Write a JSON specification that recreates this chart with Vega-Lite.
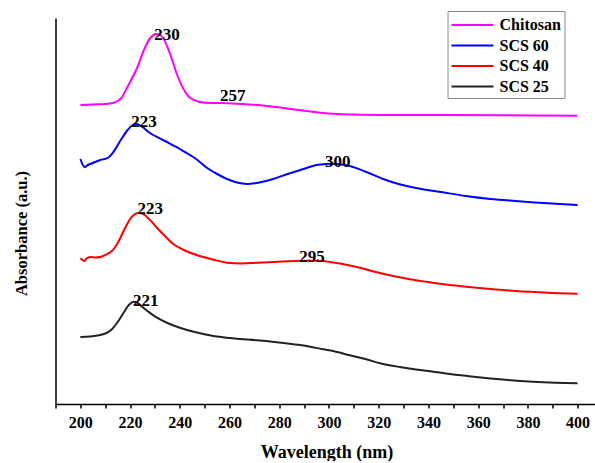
{
  "$schema": "https://vega.github.io/schema/vega-lite/v6.json",
  "width": 542,
  "height": 386,
  "padding": {"left": 13.5, "top": 10, "right": 0, "bottom": 0},
  "background": "white",
  "config": {
    "font": "Liberation Serif",
    "view": {"stroke": null}
  },
  "datasets": {
    "spectra": [
      {"sample": "Chitosan", "wavelength": 200, "absorbance": 2.99},
      {"sample": "Chitosan", "wavelength": 205, "absorbance": 2.995},
      {"sample": "Chitosan", "wavelength": 210, "absorbance": 3.0},
      {"sample": "Chitosan", "wavelength": 213, "absorbance": 3.01},
      {"sample": "Chitosan", "wavelength": 215, "absorbance": 3.03},
      {"sample": "Chitosan", "wavelength": 216.5, "absorbance": 3.06},
      {"sample": "Chitosan", "wavelength": 218.7, "absorbance": 3.16},
      {"sample": "Chitosan", "wavelength": 222.8, "absorbance": 3.36},
      {"sample": "Chitosan", "wavelength": 225.4, "absorbance": 3.53},
      {"sample": "Chitosan", "wavelength": 228.1, "absorbance": 3.66},
      {"sample": "Chitosan", "wavelength": 230.1, "absorbance": 3.7},
      {"sample": "Chitosan", "wavelength": 232, "absorbance": 3.69},
      {"sample": "Chitosan", "wavelength": 233.5, "absorbance": 3.65},
      {"sample": "Chitosan", "wavelength": 236.1, "absorbance": 3.5},
      {"sample": "Chitosan", "wavelength": 238.8, "absorbance": 3.3},
      {"sample": "Chitosan", "wavelength": 241.5, "absorbance": 3.15},
      {"sample": "Chitosan", "wavelength": 244.2, "absorbance": 3.06},
      {"sample": "Chitosan", "wavelength": 248, "absorbance": 3.02},
      {"sample": "Chitosan", "wavelength": 257, "absorbance": 3.01},
      {"sample": "Chitosan", "wavelength": 265, "absorbance": 3.0},
      {"sample": "Chitosan", "wavelength": 275, "absorbance": 2.98},
      {"sample": "Chitosan", "wavelength": 288, "absorbance": 2.94},
      {"sample": "Chitosan", "wavelength": 300, "absorbance": 2.905},
      {"sample": "Chitosan", "wavelength": 310, "absorbance": 2.895},
      {"sample": "Chitosan", "wavelength": 325, "absorbance": 2.89},
      {"sample": "Chitosan", "wavelength": 345, "absorbance": 2.89},
      {"sample": "Chitosan", "wavelength": 370, "absorbance": 2.887},
      {"sample": "Chitosan", "wavelength": 400, "absorbance": 2.883},

      {"sample": "SCS 60", "wavelength": 200, "absorbance": 2.45},
      {"sample": "SCS 60", "wavelength": 201.7, "absorbance": 2.37},
      {"sample": "SCS 60", "wavelength": 203, "absorbance": 2.39},
      {"sample": "SCS 60", "wavelength": 204.5, "absorbance": 2.405},
      {"sample": "SCS 60", "wavelength": 208, "absorbance": 2.44},
      {"sample": "SCS 60", "wavelength": 211, "absorbance": 2.46},
      {"sample": "SCS 60", "wavelength": 213, "absorbance": 2.51},
      {"sample": "SCS 60", "wavelength": 216, "absorbance": 2.63},
      {"sample": "SCS 60", "wavelength": 219, "absorbance": 2.74},
      {"sample": "SCS 60", "wavelength": 221, "absorbance": 2.79},
      {"sample": "SCS 60", "wavelength": 222.7, "absorbance": 2.8},
      {"sample": "SCS 60", "wavelength": 225, "absorbance": 2.77},
      {"sample": "SCS 60", "wavelength": 228, "absorbance": 2.71},
      {"sample": "SCS 60", "wavelength": 234, "absorbance": 2.63},
      {"sample": "SCS 60", "wavelength": 240, "absorbance": 2.55},
      {"sample": "SCS 60", "wavelength": 246, "absorbance": 2.46},
      {"sample": "SCS 60", "wavelength": 251, "absorbance": 2.36},
      {"sample": "SCS 60", "wavelength": 255, "absorbance": 2.3},
      {"sample": "SCS 60", "wavelength": 259, "absorbance": 2.25},
      {"sample": "SCS 60", "wavelength": 263, "absorbance": 2.215},
      {"sample": "SCS 60", "wavelength": 267, "absorbance": 2.2},
      {"sample": "SCS 60", "wavelength": 272, "absorbance": 2.215},
      {"sample": "SCS 60", "wavelength": 277.6, "absorbance": 2.25},
      {"sample": "SCS 60", "wavelength": 284, "absorbance": 2.305},
      {"sample": "SCS 60", "wavelength": 288.4, "absorbance": 2.34},
      {"sample": "SCS 60", "wavelength": 291, "absorbance": 2.36},
      {"sample": "SCS 60", "wavelength": 295, "absorbance": 2.39},
      {"sample": "SCS 60", "wavelength": 299, "absorbance": 2.4},
      {"sample": "SCS 60", "wavelength": 303, "absorbance": 2.4},
      {"sample": "SCS 60", "wavelength": 308.4, "absorbance": 2.38},
      {"sample": "SCS 60", "wavelength": 315, "absorbance": 2.32},
      {"sample": "SCS 60", "wavelength": 321.8, "absorbance": 2.25},
      {"sample": "SCS 60", "wavelength": 328, "absorbance": 2.2},
      {"sample": "SCS 60", "wavelength": 335, "absorbance": 2.16},
      {"sample": "SCS 60", "wavelength": 345, "absorbance": 2.12},
      {"sample": "SCS 60", "wavelength": 355, "absorbance": 2.08},
      {"sample": "SCS 60", "wavelength": 365, "absorbance": 2.05},
      {"sample": "SCS 60", "wavelength": 375, "absorbance": 2.03},
      {"sample": "SCS 60", "wavelength": 388, "absorbance": 2.007},
      {"sample": "SCS 60", "wavelength": 400, "absorbance": 1.99},

      {"sample": "SCS 40", "wavelength": 200, "absorbance": 1.457},
      {"sample": "SCS 40", "wavelength": 201.7, "absorbance": 1.43},
      {"sample": "SCS 40", "wavelength": 202.5, "absorbance": 1.455},
      {"sample": "SCS 40", "wavelength": 204, "absorbance": 1.47},
      {"sample": "SCS 40", "wavelength": 206, "absorbance": 1.465},
      {"sample": "SCS 40", "wavelength": 208, "absorbance": 1.47},
      {"sample": "SCS 40", "wavelength": 210, "absorbance": 1.49},
      {"sample": "SCS 40", "wavelength": 212.7, "absorbance": 1.53},
      {"sample": "SCS 40", "wavelength": 215, "absorbance": 1.61},
      {"sample": "SCS 40", "wavelength": 217.4, "absorbance": 1.73},
      {"sample": "SCS 40", "wavelength": 219.5, "absorbance": 1.83},
      {"sample": "SCS 40", "wavelength": 221, "absorbance": 1.88},
      {"sample": "SCS 40", "wavelength": 222.7, "absorbance": 1.907},
      {"sample": "SCS 40", "wavelength": 225.4, "absorbance": 1.897},
      {"sample": "SCS 40", "wavelength": 228, "absorbance": 1.84},
      {"sample": "SCS 40", "wavelength": 230.8, "absorbance": 1.763},
      {"sample": "SCS 40", "wavelength": 234, "absorbance": 1.68},
      {"sample": "SCS 40", "wavelength": 237.5, "absorbance": 1.597},
      {"sample": "SCS 40", "wavelength": 242, "absorbance": 1.535},
      {"sample": "SCS 40", "wavelength": 248, "absorbance": 1.48},
      {"sample": "SCS 40", "wavelength": 254, "absorbance": 1.44},
      {"sample": "SCS 40", "wavelength": 259, "absorbance": 1.413},
      {"sample": "SCS 40", "wavelength": 265, "absorbance": 1.405},
      {"sample": "SCS 40", "wavelength": 271, "absorbance": 1.413},
      {"sample": "SCS 40", "wavelength": 278, "absorbance": 1.42},
      {"sample": "SCS 40", "wavelength": 285.7, "absorbance": 1.43},
      {"sample": "SCS 40", "wavelength": 292, "absorbance": 1.432},
      {"sample": "SCS 40", "wavelength": 297.7, "absorbance": 1.43},
      {"sample": "SCS 40", "wavelength": 300.4, "absorbance": 1.42},
      {"sample": "SCS 40", "wavelength": 304.4, "absorbance": 1.405},
      {"sample": "SCS 40", "wavelength": 312.4, "absorbance": 1.363},
      {"sample": "SCS 40", "wavelength": 318, "absorbance": 1.325},
      {"sample": "SCS 40", "wavelength": 325.8, "absorbance": 1.28},
      {"sample": "SCS 40", "wavelength": 332, "absorbance": 1.25},
      {"sample": "SCS 40", "wavelength": 339, "absorbance": 1.223},
      {"sample": "SCS 40", "wavelength": 347, "absorbance": 1.195},
      {"sample": "SCS 40", "wavelength": 355, "absorbance": 1.173},
      {"sample": "SCS 40", "wavelength": 365, "absorbance": 1.15},
      {"sample": "SCS 40", "wavelength": 375, "absorbance": 1.13},
      {"sample": "SCS 40", "wavelength": 388, "absorbance": 1.113},
      {"sample": "SCS 40", "wavelength": 400, "absorbance": 1.103},

      {"sample": "SCS 25", "wavelength": 200, "absorbance": 0.67},
      {"sample": "SCS 25", "wavelength": 204, "absorbance": 0.675},
      {"sample": "SCS 25", "wavelength": 208, "absorbance": 0.69},
      {"sample": "SCS 25", "wavelength": 210.5, "absorbance": 0.71},
      {"sample": "SCS 25", "wavelength": 212.7, "absorbance": 0.747},
      {"sample": "SCS 25", "wavelength": 215, "absorbance": 0.82},
      {"sample": "SCS 25", "wavelength": 217.4, "absorbance": 0.913},
      {"sample": "SCS 25", "wavelength": 219.5, "absorbance": 0.99},
      {"sample": "SCS 25", "wavelength": 221.4, "absorbance": 1.023},
      {"sample": "SCS 25", "wavelength": 223, "absorbance": 1.01},
      {"sample": "SCS 25", "wavelength": 224.5, "absorbance": 0.98},
      {"sample": "SCS 25", "wavelength": 227.5, "absorbance": 0.92},
      {"sample": "SCS 25", "wavelength": 230.8, "absorbance": 0.863},
      {"sample": "SCS 25", "wavelength": 235, "absorbance": 0.81},
      {"sample": "SCS 25", "wavelength": 240, "absorbance": 0.763},
      {"sample": "SCS 25", "wavelength": 246, "absorbance": 0.72},
      {"sample": "SCS 25", "wavelength": 253.5, "absorbance": 0.68},
      {"sample": "SCS 25", "wavelength": 262, "absorbance": 0.655},
      {"sample": "SCS 25", "wavelength": 271, "absorbance": 0.637},
      {"sample": "SCS 25", "wavelength": 278, "absorbance": 0.62},
      {"sample": "SCS 25", "wavelength": 285.7, "absorbance": 0.597},
      {"sample": "SCS 25", "wavelength": 292, "absorbance": 0.575},
      {"sample": "SCS 25", "wavelength": 297.7, "absorbance": 0.547},
      {"sample": "SCS 25", "wavelength": 301.7, "absorbance": 0.53},
      {"sample": "SCS 25", "wavelength": 308, "absorbance": 0.49},
      {"sample": "SCS 25", "wavelength": 315, "absorbance": 0.447},
      {"sample": "SCS 25", "wavelength": 321, "absorbance": 0.405},
      {"sample": "SCS 25", "wavelength": 328.5, "absorbance": 0.37},
      {"sample": "SCS 25", "wavelength": 335, "absorbance": 0.345},
      {"sample": "SCS 25", "wavelength": 342, "absorbance": 0.323},
      {"sample": "SCS 25", "wavelength": 352, "absorbance": 0.29},
      {"sample": "SCS 25", "wavelength": 362, "absorbance": 0.263},
      {"sample": "SCS 25", "wavelength": 372, "absorbance": 0.24},
      {"sample": "SCS 25", "wavelength": 382, "absorbance": 0.223},
      {"sample": "SCS 25", "wavelength": 391, "absorbance": 0.213},
      {"sample": "SCS 25", "wavelength": 400, "absorbance": 0.207}
    ],
    "peaks": [
      {"label": "230", "wavelength": 229.7, "absorbance": 3.64},
      {"label": "257", "wavelength": 256.2, "absorbance": 3.03},
      {"label": "223", "wavelength": 220.5, "absorbance": 2.77},
      {"label": "300", "wavelength": 298.4, "absorbance": 2.37},
      {"label": "223", "wavelength": 223, "absorbance": 1.9},
      {"label": "295", "wavelength": 288, "absorbance": 1.42},
      {"label": "221", "wavelength": 221.2, "absorbance": 0.98}
    ]
  },
  "encoding": {
    "x": {
      "field": "wavelength",
      "type": "quantitative",
      "scale": {"domain": [190, 408], "nice": false, "zero": false},
      "axis": {
        "title": "Wavelength (nm)",
        "values": [190, 200, 210, 220, 230, 240, 250, 260, 270, 280, 290, 300, 310, 320, 330, 340, 350, 360, 370, 380, 390, 400],
        "labelExpr": "datum.value % 20 == 0 ? datum.label : ''",
        "grid": false,
        "domainColor": "black",
        "domainWidth": 1.5,
        "tickColor": "black",
        "tickWidth": 1.5,
        "tickSize": 4,
        "labelFontSize": 16,
        "labelFontWeight": "bold",
        "labelColor": "black",
        "labelPadding": 6,
        "labelOverlap": false,
        "titleFontSize": 18,
        "titleFontWeight": "bold",
        "titleColor": "black",
        "titlePadding": 13
      }
    },
    "y": {
      "field": "absorbance",
      "type": "quantitative",
      "scale": {"domain": [0, 3.86], "nice": false},
      "axis": {
        "title": "Absorbance (a.u.)",
        "ticks": false,
        "labels": false,
        "grid": false,
        "domainColor": "black",
        "domainWidth": 1.5,
        "titleFontSize": 16.5,
        "titleFontWeight": "bold",
        "titleColor": "black",
        "titlePadding": 26,
        "titleY": 215
      }
    }
  },
  "layer": [
    {
      "data": {"name": "spectra"},
      "mark": {"type": "line", "strokeWidth": 2, "interpolate": "catmull-rom"},
      "encoding": {
        "color": {
          "field": "sample",
          "type": "nominal",
          "scale": {
            "domain": ["Chitosan", "SCS 60", "SCS 40", "SCS 25"],
            "range": ["#ff00ff", "#0000ff", "#ff0000", "#222222"]
          },
          "legend": {
            "title": null,
            "orient": "none",
            "legendX": 392,
            "legendY": -7,
            "strokeColor": "#888888",
            "padding": 3,
            "symbolType": "M-2.1,0H2.1",
            "symbolSize": 400,
            "symbolStrokeWidth": 2,
            "symbolOffset": 11,
            "labelOffset": 16,
            "rowPadding": 1.5,
            "labelFontSize": 16,
            "labelFontWeight": "bold",
            "labelColor": "black"
          }
        }
      }
    },
    {
      "data": {"name": "peaks"},
      "mark": {"type": "text", "align": "left", "baseline": "alphabetic", "fontSize": 17, "fontWeight": "bold", "color": "black"},
      "encoding": {
        "text": {"field": "label"}
      }
    }
  ]
}
